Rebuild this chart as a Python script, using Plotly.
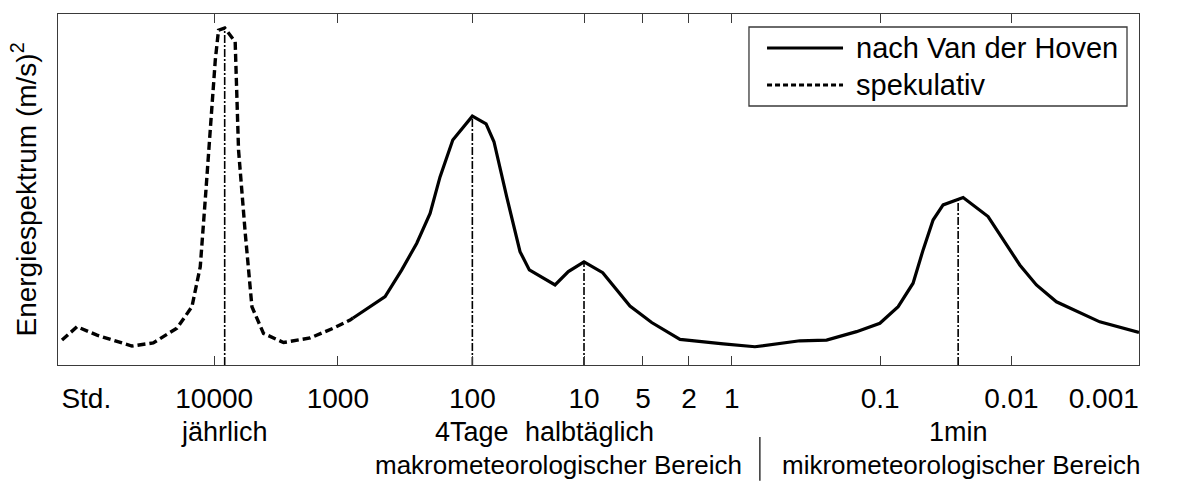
import plotly.graph_objects as go

# Horizontal scale: relative position along the (hand-warped) period axis, 0..100
# Period axis labels (hours) and where they sit on that scale
tick_labels = ["Std.", "10000", "1000", "100", "10", "5", "2", "1", "0.1", "0.01", "0.001"]
tick_pos = [2.62, 14.45, 25.89, 38.33, 48.66, 54.11, 58.37, 62.34, 76.05, 88.20, 96.74]
mark_pos = [14.45, 25.89, 38.33, 48.66, 54.11, 58.37, 62.34, 76.05, 88.20]

# Spectrum after Van der Hoven (measured part)
hoven_x = [27.30, 30.26, 31.80, 33.19, 34.42, 35.34, 36.52, 38.33, 39.60, 40.33, 41.51,
           42.74, 43.60, 45.98, 47.21, 48.66, 50.39, 52.91, 54.92, 57.54, 61.54, 64.47,
           68.63, 71.10, 73.87, 76.03, 77.72, 79.10, 80.03, 80.95, 81.88, 83.73, 86.04,
           88.97, 90.51, 92.36, 96.37, 100.0]
hoven_y = [1.34, 1.95, 2.71, 3.47, 4.32, 5.36, 6.41, 7.09, 6.87, 6.36, 4.79,
           3.23, 2.71, 2.28, 2.66, 2.94, 2.63, 1.68, 1.21, 0.73, 0.60, 0.52,
           0.69, 0.71, 0.95, 1.19, 1.66, 2.33, 3.28, 4.13, 4.56, 4.77, 4.23,
           2.85, 2.28, 1.80, 1.23, 0.93]

# Speculative long-period part
spek_x = [0.37, 1.76, 3.61, 6.84, 8.81, 11.00, 12.39, 13.16, 13.62, 14.08, 14.55, 14.85,
          15.42, 16.39, 16.55, 16.70, 17.32, 17.94, 19.01, 20.86, 23.33, 25.48, 27.02, 27.30]
spek_y = [0.71, 1.09, 0.85, 0.54, 0.63, 1.05, 1.66, 2.80, 4.70, 6.61, 8.69, 9.54,
          9.60, 9.21, 7.60, 6.13, 3.76, 1.66, 0.90, 0.64, 0.77, 1.05, 1.28, 1.34]

# Characteristic peaks
peak_names = ["jährlich", "4Tage", "halbtäglich", "1min"]
peak_x = [15.42, 38.33, 48.66, 83.27]
peak_y = [9.60, 7.09, 2.94, 4.70]
peak_label_shift = [0, 0, 5, 0]

regions = ["makrometeorologischer Bereich", "mikrometeorologischer Bereich"]
region_split = 64.93

series_names = ["nach Van der Hoven", "spekulativ"]

FONT = "Arial, Liberation Sans, sans-serif"
FS_TICK = 28
FS_PEAK = 27
FS_REGION = 26
FS_BIG = 29
AXC = "#3a3a3a"
SOLID = dict(color="black", width=3.2)
DASHED = dict(color="black", width=3.4, dash="8px,4px")

fig = go.Figure()

fig.add_trace(go.Scatter(x=hoven_x, y=hoven_y, mode="lines", name=series_names[0],
                         line=SOLID, showlegend=False))
fig.add_trace(go.Scatter(x=spek_x, y=spek_y, mode="lines", name=series_names[1],
                         line=DASHED, showlegend=False))

# Dash-dot markers of the characteristic peaks (on the tick-mark axis, same scale)
for px, py in zip(peak_x, peak_y):
    fig.add_trace(go.Scatter(x=[px, px], y=[0, py], mode="lines", showlegend=False,
                             hoverinfo="skip", xaxis="x2", yaxis="y",
                             line=dict(color="black", width=1.6, dash="8px,2px,2px,2px")))

# Peak names below the period labels
for name, px, sh in zip(peak_names, peak_x, peak_label_shift):
    fig.add_annotation(x=px, y=-0.19, xref="x", yref="paper", text=name, showarrow=False,
                       xanchor="center", yanchor="middle", xshift=sh,
                       font=dict(family=FONT, size=FS_PEAK, color="black"))

# Region labels with a separator
fig.add_annotation(x=region_split, y=-0.284, xref="x", yref="paper", text=regions[0],
                   showarrow=False, xanchor="right", yanchor="middle", xshift=-16,
                   font=dict(family=FONT, size=FS_REGION, color="black"))
fig.add_annotation(x=region_split, y=-0.284, xref="x", yref="paper", text=regions[1],
                   showarrow=False, xanchor="left", yanchor="middle", xshift=20,
                   font=dict(family=FONT, size=FS_REGION, color="black"))
fig.add_shape(type="line", xref="x", yref="paper", x0=region_split, x1=region_split,
              y0=-0.205, y1=-0.33, line=dict(color="black", width=1.2))

# Legend box (upper right)
LEG_X0, LEG_X1, LEG_Y0, LEG_Y1 = 0.6392, 0.9889, 0.7379, 0.9630
LEG_ROWS = [0.9031, 0.7977]
SAMPLE_X0, SAMPLE_X1, LEG_TEXT_X = 0.6559, 0.7262, 0.7364
fig.add_shape(type="rect", xref="paper", yref="paper", x0=LEG_X0, x1=LEG_X1,
              y0=LEG_Y0, y1=LEG_Y1, line=dict(color=AXC, width=1.3), fillcolor="white",
              layer="above")
for name, row, style in zip(series_names, LEG_ROWS,
                            [SOLID, dict(color="black", width=3.2, dash="5px,3px")]):
    fig.add_shape(type="line", xref="paper", yref="paper", x0=SAMPLE_X0, x1=SAMPLE_X1,
                  y0=row, y1=row, line=style, layer="above")
    fig.add_annotation(x=LEG_TEXT_X, y=row, xref="paper", yref="paper", text=name,
                       showarrow=False, xanchor="left", yanchor="middle",
                       font=dict(family=FONT, size=FS_BIG, color="black"))

fig.update_layout(
    width=1180, height=481,
    margin=dict(l=58, r=41, t=14, b=116),
    paper_bgcolor="white", plot_bgcolor="white",
    font=dict(family=FONT, size=FS_TICK, color="black"),
    xaxis=dict(range=[0, 100], tickmode="array", tickvals=tick_pos, ticktext=tick_labels,
               ticks="", showline=True, mirror=True, linecolor=AXC, linewidth=1.3,
               showgrid=False, zeroline=False, ticklabelstandoff=8,
               tickfont=dict(family=FONT, size=FS_TICK, color="black")),
    # period tick marks, drawn inward at bottom and top
    xaxis2=dict(range=[0, 100], overlaying="x", anchor="y", side="bottom",
                tickmode="array", tickvals=mark_pos, ticks="inside", ticklen=9,
                tickwidth=1.3, tickcolor=AXC, mirror="ticks", showline=True,
                linecolor=AXC, linewidth=1.3,
                showticklabels=False, showgrid=False, zeroline=False),
    yaxis=dict(range=[0, 10], showticklabels=False, ticks="", showline=True, mirror=True,
               linecolor=AXC, linewidth=1.3, showgrid=False, zeroline=False,
               title=dict(text="Energiespektrum (m/s)<sup>2</sup>", standoff=12,
                          font=dict(family=FONT, size=28, color="black"))),
    showlegend=False,
)

fig.write_html("out.html")
